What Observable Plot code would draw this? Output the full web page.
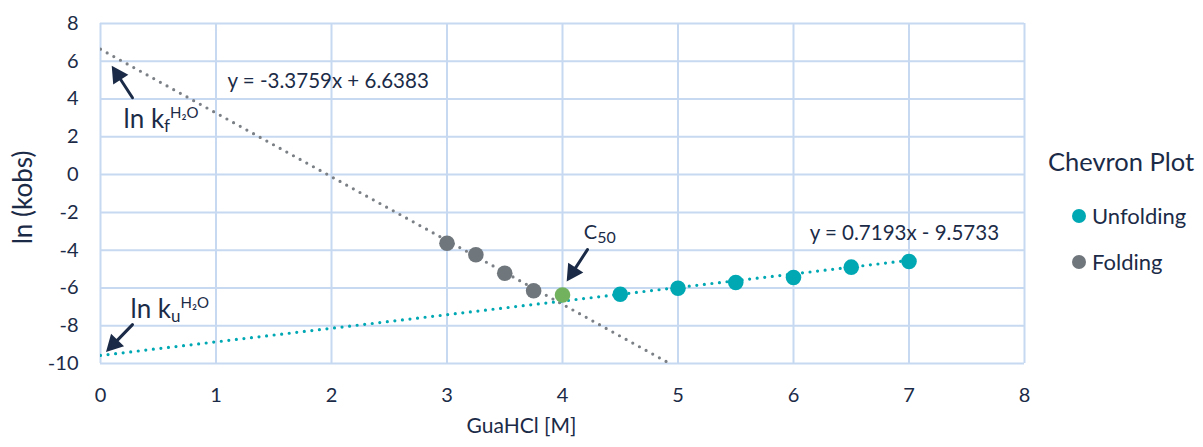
<!DOCTYPE html>
<html>
<head>
<meta charset="utf-8">
<script src="https://cdn.jsdelivr.net/npm/d3@7"></script>
<script src="https://cdn.jsdelivr.net/npm/@observablehq/plot@0.6"></script>
<style>
  body { margin: 0; background: #fff; font-family: Lato, "Open Sans", sans-serif; color: #1b2b47; }
  #wrap { position: relative; width: 1203px; height: 447px; }
  .legend-title { position: absolute; left: 1048px; top: 147px; font-size: 25.5px; line-height: 28px; white-space: nowrap; }
  .legend-item { position: absolute; left: 1072px; font-size: 22px; line-height: 24px; white-space: nowrap; display: flex; align-items: center; }
  .legend-item .sw { width: 14px; height: 14px; border-radius: 50%; display: inline-block; margin-right: 6px; }
</style>
</head>
<body>
<div id="wrap"></div>
<script>
// Measured rate constants, ln(k_obs) against denaturant concentration
const foldingX = [3, 3.25, 3.5, 3.75];
const foldingY = [-3.63, -4.24, -5.22, -6.15];
const unfoldingX = [4.5, 5, 5.5, 6, 6.5, 7];
const unfoldingY = [-6.33, -6.02, -5.71, -5.45, -4.9, -4.6];
const midpointX = [4];
const midpointY = [-6.37];

// Linear fits of the two limbs
const fitNames = ["Folding", "Unfolding"];
const fitSlopes = [-3.3759, 0.7193];
const fitIntercepts = [6.6383, -9.5733];
const fitFrom = [0, 0];
const fitTo = [5, 7];
const fitLabelX = [1.1, 6.14];
const fitLabelY = [4.92, -3.1];

// Series names and colours for the legend
const seriesNames = ["Unfolding", "Folding"];
const seriesColors = ["#00a8b4", "#6f767c"];
const midpointColor = "#72b15e";
const foldLineColor = "#7b8086";

// Axis ticks
const xTicks = [0, 1, 2, 3, 4, 5, 6, 7, 8];
const yTicks = [-10, -8, -6, -4, -2, 0, 2, 4, 6, 8];

// Annotations: arrows (tail position, direction) and rich labels
const arrowX = [0.277, 0.277, 4.216];
const arrowY = [4.07, -7.94, -3.97];
const arrowAngle = [-33, -136, -147];
const noteMain = ["ln k", "ln k", "C"];
const noteSub = ["f", "u", "50"];
const noteSup = ["H₂O", "H₂O", ""];
const noteX = [0.2, 0.26, 4.185];
const noteY = [2.9, -7.15, -3.07];
const noteSize = [26, 26, 20];

const navy = "#1b2b47";
const gridColor = "#c6d9f1";

const fmt = (v) => (v < 0 ? `- ${Math.abs(v)}` : `+ ${v}`);
const fitRows = fitNames.flatMap((name, i) =>
  [fitFrom[i], fitTo[i]].map((x) => ({ name, x, y: fitSlopes[i] * x + fitIntercepts[i] }))
);
const fitLabels = fitNames.map((name, i) => ({
  x: fitLabelX[i], y: fitLabelY[i],
  text: `y = ${fitSlopes[i]}x ${fmt(fitIntercepts[i])}`
}));
const notes = noteMain.map((m, i) => ({
  x: noteX[i], y: noteY[i], size: noteSize[i], full: m + noteSub[i] + noteSup[i]
}));
const arrows = arrowX.map((x, i) => ({ x, y: arrowY[i], r: arrowAngle[i] }));

// Filled-head arrow for Plot.vector
const arrowShape = {
  draw(context, l) {
    const h = 12, w = 6.5;
    context.moveTo(0, 0);
    context.lineTo(0, -l + h);
    context.moveTo(-w, -l + h);
    context.lineTo(0, -l);
    context.lineTo(w, -l + h);
    context.closePath();
  }
};

const dotted = { strokeWidth: 3.2, strokeDasharray: "0 7.6", strokeLinecap: "round" };

const chart = Plot.plot({
  width: 1203,
  height: 447,
  marginLeft: 100,
  marginRight: 179,
  marginTop: 23,
  marginBottom: 84,
  style: { fontFamily: "Lato, 'Open Sans', sans-serif", color: navy, background: "#fff" },
  x: { domain: [0, 8] },
  y: { domain: [-10, 8] },
  marks: [
    Plot.gridX(xTicks, { stroke: gridColor, strokeOpacity: 1, strokeWidth: 2 }),
    Plot.gridY(yTicks, { stroke: gridColor, strokeOpacity: 1, strokeWidth: 2 }),
    Plot.axisX(xTicks, { tickSize: 0, tickPadding: 24, fontSize: 20, label: null, tickFormat: (d) => String(d) }),
    Plot.axisY(yTicks, { tickSize: 0, tickPadding: 22, fontSize: 20, label: null, tickFormat: (d) => String(d) }),
    Plot.line(fitRows.filter((d) => d.name === "Folding"), { x: "x", y: "y", stroke: foldLineColor, clip: true, ...dotted }),
    Plot.line(fitRows.filter((d) => d.name === "Unfolding"), { x: "x", y: "y", stroke: seriesColors[0], clip: true, ...dotted }),
    Plot.dot(foldingX, { x: foldingX, y: foldingY, r: 7.8, fill: seriesColors[1] }),
    Plot.dot(unfoldingX, { x: unfoldingX, y: unfoldingY, r: 7.8, fill: seriesColors[0] }),
    Plot.dot(midpointX, { x: midpointX, y: midpointY, r: 7.8, fill: midpointColor }),
    Plot.vector(arrows, {
      x: "x", y: "y", rotate: "r", length: 35, anchor: "start", shape: arrowShape,
      stroke: navy, fill: navy, strokeWidth: 3, strokeLinejoin: "miter"
    }),
    Plot.text(fitLabels, { x: "x", y: "y", text: "text", textAnchor: "start", fontSize: 20.5, fill: navy }),
    Plot.text(notes, { x: "x", y: "y", text: "full", textAnchor: "start", fontSize: "size", fill: navy }),
    Plot.text(["ln (kobs)"], { frameAnchor: "left", textAnchor: "middle", rotate: -90, dx: -77, dy: 4, fontSize: 26, fill: navy }),
    Plot.text(["GuaHCl [M]"], { frameAnchor: "bottom", textAnchor: "middle", dx: -41, dy: 69, fontSize: 21, fill: navy })
  ]
});

// Subscripts and superscripts on the annotation labels
d3.select(chart).selectAll("text").each(function () {
  const i = notes.findIndex((n) => n.full === this.textContent);
  if (i < 0) return;
  const el = d3.select(this);
  el.text(null);
  el.append("tspan").text(noteMain[i]);
  el.append("tspan").attr("font-size", i === 2 ? 16 : 17).attr("dy", 4).text(noteSub[i]);
  if (noteSup[i]) el.append("tspan").attr("font-size", 15).attr("dy", -14).text(noteSup[i]);
});

const wrap = document.getElementById("wrap");
wrap.appendChild(chart);

// Legend
const title = document.createElement("div");
title.className = "legend-title";
title.textContent = "Chevron Plot";
wrap.appendChild(title);
const legendTops = [204, 250];
seriesNames.forEach((name, i) => {
  const item = document.createElement("div");
  item.className = "legend-item";
  item.style.top = legendTops[i] + "px";
  const sw = document.createElement("span");
  sw.className = "sw";
  sw.style.background = seriesColors[i];
  item.appendChild(sw);
  item.appendChild(document.createTextNode(name));
  wrap.appendChild(item);
});
</script>
</body>
</html>
